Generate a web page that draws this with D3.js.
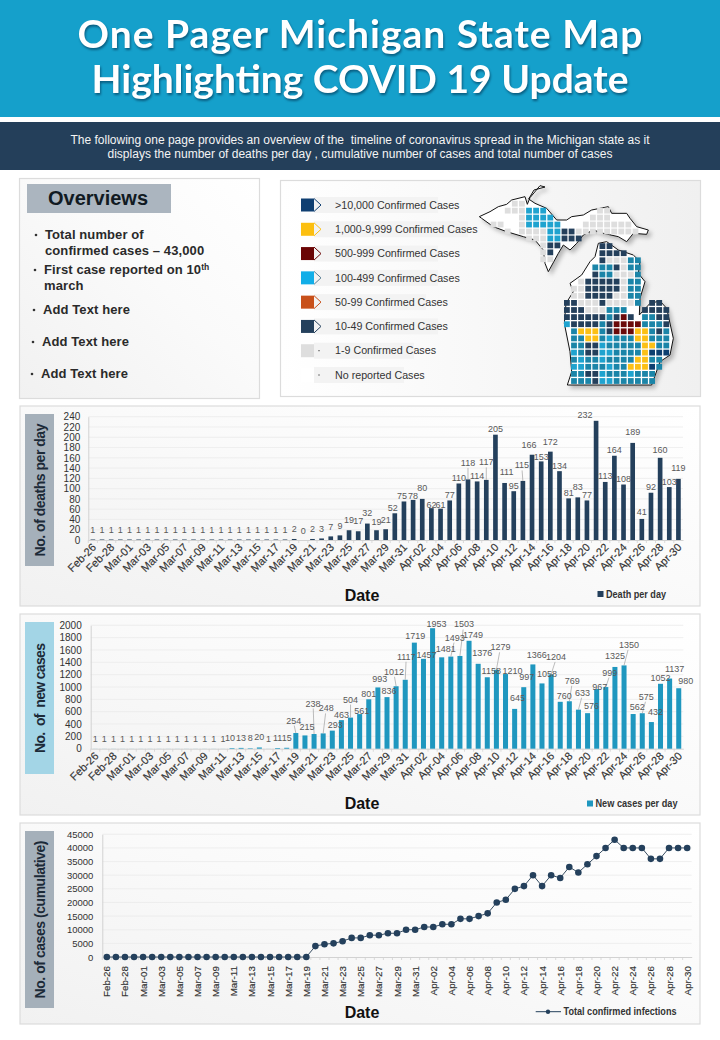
<!DOCTYPE html>
<html><head><meta charset="utf-8">
<script src="https://cdn.jsdelivr.net/npm/d3@7"></script>
<style>
html,body{margin:0;padding:0;background:#fff}
svg{display:block}
text{font-family:"Liberation Sans",Arial,sans-serif}
</style></head><body><svg id="c" width="720" height="1040"></svg>
<script>
const dates=["Feb-26","Feb-27","Feb-28","Feb-29","Mar-01","Mar-02","Mar-03","Mar-04","Mar-05","Mar-06","Mar-07","Mar-08","Mar-09","Mar-10","Mar-11","Mar-12","Mar-13","Mar-14","Mar-15","Mar-16","Mar-17","Mar-18","Mar-19","Mar-20","Mar-21","Mar-22","Mar-23","Mar-24","Mar-25","Mar-26","Mar-27","Mar-28","Mar-29","Mar-30","Mar-31","Apr-01","Apr-02","Apr-03","Apr-04","Apr-05","Apr-06","Apr-07","Apr-08","Apr-09","Apr-10","Apr-11","Apr-12","Apr-13","Apr-14","Apr-15","Apr-16","Apr-17","Apr-18","Apr-19","Apr-20","Apr-21","Apr-22","Apr-23","Apr-24","Apr-25","Apr-26","Apr-27","Apr-28","Apr-29","Apr-30"];
const deaths=[1,1,1,1,1,1,1,1,1,1,1,1,1,1,1,1,1,1,1,1,1,1,2,0,2,3,7,9,19,17,32,19,21,52,75,78,80,62,61,77,110,118,114,117,205,111,95,115,166,153,172,134,81,83,77,232,113,164,108,189,41,92,160,103,119];
const newCases=[1,1,1,1,1,1,1,1,1,1,1,1,1,1,1,10,13,8,20,1,11,15,254,215,238,248,293,463,504,561,801,993,836,1012,1117,1719,1457,1953,1481,1493,1503,1749,1376,1158,1279,1210,645,997,1366,1058,1204,760,769,633,576,967,999,1325,1350,562,575,432,1052,1137,980];
const cumulative=[0,0,0,0,0,0,0,0,0,0,0,0,0,0,0,0,0,0,0,0,0,0,0,4000,4700,5000,5800,7000,7000,8000,8000,8700,8700,10000,10000,11000,11000,12000,12000,14000,14000,15000,16000,20000,21000,25000,26000,30000,26000,30000,29000,33000,31000,34000,37000,40000,43000,40000,40000,40000,36000,36000,40000,40000,40000];
const deathTicks=[0,20,40,60,80,100,120,140,160,180,200,220,240];
const caseTicks=[0,200,400,600,800,1000,1200,1400,1600,1800,2000];
const cumTicks=[0,5000,10000,15000,20000,25000,30000,35000,40000,45000];
const legendLabels=[">10,000 Confirmed Cases","1,000-9,999 Confirmed Cases","500-999 Confirmed Cases","100-499 Confirmed Cases","50-99 Confirmed Cases","10-49 Confirmed Cases","1-9 Confirmed Cases","No reported Cases"];
const legendColors=["#0f3f72","#fcbf10","#6b0505","#12aee8","#c8501a","#24405c","#dedede","#ffffff"];

// Label nudges: date -> [dx, dy, leader]
const deathShift={"Mar-25":[0,-5],"Mar-26":[0,-5],"Mar-27":[0,-5],"Mar-28":[0,-3],"Mar-30":[-2,0],"Mar-31":[-2,0],"Apr-01":[0,2],"Apr-02":[0,-5],"Apr-03":[0,2],"Apr-04":[0,2],"Apr-07":[0,-11,1],"Apr-09":[0,-12,1],"Apr-11":[2,-5],"Apr-13":[-1,-10,1],"Apr-14":[-3,-4],"Apr-15":[0,1],"Apr-16":[0,-4.5],"Apr-19":[0,-5],"Apr-21":[-11,0],"Apr-25":[0,-5],"Apr-26":[0,-1],"Apr-28":[0,-2],"Apr-30":[0,-5]};
const caseShift={"Mar-12":[-2,-4.5],"Mar-19":[-2,-7,1],"Mar-20":[2,-2.5],"Mar-21":[-1,-25,1],"Mar-22":[3,-19.5,1],"Mar-23":[3,0],"Mar-25":[0,-12.5,1],"Mar-26":[2,2],"Mar-28":[2,-2.5],"Mar-29":[2,-1],"Mar-30":[-2,-9,1],"Mar-31":[1,-17.5,1],"Apr-01":[1,-1.5],"Apr-02":[3,2],"Apr-03":[4,1],"Apr-04":[4,-3],"Apr-05":[4,-13.5,1],"Apr-06":[4,-26,1],"Apr-07":[4,0],"Apr-08":[4,-5],"Apr-09":[4,-1],"Apr-10":[4,-17,1],"Apr-11":[7,2],"Apr-12":[3,-5],"Apr-13":[3,-5],"Apr-14":[4,-4],"Apr-15":[5,-4],"Apr-16":[5,-12,1],"Apr-17":[4,0],"Apr-18":[3,-15,1],"Apr-19":[4,-11.5,1],"Apr-20":[4,-2],"Apr-21":[3,3],"Apr-22":[4,-9,1],"Apr-23":[0,-5],"Apr-24":[5,-15,1],"Apr-25":[4,-2],"Apr-26":[4,-11,1],"Apr-27":[4,-5],"Apr-29":[5,-4.5],"Apr-30":[7,-2]};

// Map county grid: n navy, t teal, B bright blue, y gold, r dark red, d deep blue, g grey
const upperRows=[".....gg","....gggttt.......gg","......gtttt.....ggg","..gg..gttttt...ggggggg","....g.ggggttnnggggggggg",".......gggttnnn",".........gnn",".........gn",".........gg"];
const lowerRows=[".....nn",".....nnnn",".....ngggtt","....tttngtt","....nttgggt","..gnnnnngtt",".ggnnnnngtt",".ggnnnnggtt","nngggnggggt.nn","nnngggttt..nnnn","nnnnnntnrn.ttnn","Bnnnntnrrrrtttn",".tyyytnrrryytnt",".ttyytBtttyyttt",".ttnnBtttttyytt",".BtnnBBttttyddd",".tBttBttttyytt",".BBtttBttyyydt",".ttnnBtttBttt",".tttnBBtttttt"];
const upperOutline=[[28,125],[60,110],[85,95],[110,88],[125,75],[165,65],[172,88],[180,68],[210,32],[225,36],[192,45],[176,72],[195,85],[230,100],[260,135],[290,135],[305,125],[340,120],[365,105],[415,95],[425,115],[470,115],[480,130],[500,155],[535,165],[530,178],[490,175],[470,200],[445,185],[400,175],[370,165],[340,180],[320,205],[300,225],[280,210],[265,235],[235,290],[225,265],[220,225],[195,195],[160,185],[110,170],[70,155],[35,130]];
const lowerOutline=[[385,205],[410,200],[445,225],[490,240],[510,260],[505,295],[525,320],[510,370],[508,420],[540,385],[570,378],[590,400],[610,490],[600,540],[570,560],[545,630],[292,630],[305,590],[300,530],[283,445],[288,385],[310,350],[300,325],[335,300],[360,260],[375,245]];

const svg=d3.select("#c");
const defs=svg.append("defs");
const g1=defs.append("linearGradient").attr("id","pg").attr("x1",0).attr("y1",1).attr("x2",1).attr("y2",0);
g1.append("stop").attr("offset","0").attr("stop-color","#f1f1f1");
g1.append("stop").attr("offset",".55").attr("stop-color","#fafafa");
g1.append("stop").attr("offset","1").attr("stop-color","#ffffff");
const g2=defs.append("linearGradient").attr("id","mg").attr("x1",0).attr("y1",0).attr("x2",1).attr("y2",0);
g2.append("stop").attr("offset","0").attr("stop-color","#ffffff");
g2.append("stop").attr("offset","1").attr("stop-color","#f0f0f0");

// Header
svg.append("rect").attr("width",720).attr("height",117).attr("fill","#15a0cb");
svg.append("rect").attr("y",122).attr("width",720).attr("height",48).attr("fill","#243f5a");
[["One Pager Michigan State Map",48,565],["Highlighting COVID 19 Update",93,537]].forEach(d=>{
 svg.append("text").text(d[0]).attr("x",360).attr("y",d[1]).attr("text-anchor","middle")
  .attr("textLength",d[2]).style("font-family","Lato").style("font-weight",700).style("font-size","39px").attr("fill","#fff")
  .style("filter","drop-shadow(1px 2px 1px rgba(0,40,70,.55))");
});
[["The following one page provides an overview of the  timeline of coronavirus spread in the Michigan state as it",144,579],["displays the number of deaths per day , cumulative number of cases and total number of cases",158,505]].forEach(d=>{
 svg.append("text").text(d[0]).attr("x",360).attr("y",d[1]).attr("text-anchor","middle").attr("textLength",d[2]).attr("lengthAdjust","spacingAndGlyphs")
  .style("font-size","12px").attr("fill","#f4f4f4").attr("xml:space","preserve");
});

function panel(x,y,w,h,fill){
 svg.append("rect").attr("x",x).attr("y",y).attr("width",w).attr("height",h).attr("fill",fill||"url(#pg)").attr("stroke","#dcdcdc").attr("stroke-width",1.2);
}
// Overviews
panel(19.5,178.5,240,220);
svg.append("rect").attr("x",27).attr("y",184).attr("width",144).attr("height",29).attr("fill","#abb5bf");
svg.append("text").text("Overviews").attr("x",98).attr("y",204.5).attr("text-anchor","middle").style("font-size","20px").style("font-weight",700).attr("fill","#111a22");
const bullets=[[36,45,239,"Total number of"],[null,45,255,"confirmed cases – 43,000"],[35,44,274,"First case reported on 10"],[null,44,290,"march"],[34,43,314,"Add Text here"],[33,42,346,"Add Text here"],[32,41,378,"Add Text here"]];
bullets.forEach(b=>{
 if(b[0]!==null) svg.append("circle").attr("cx",b[0]).attr("cy",b[2]-4).attr("r",1.3).attr("fill","#333");
 const t=svg.append("text").attr("x",b[1]).attr("y",b[2]).style("font-size","13px").style("letter-spacing",".1px").style("font-weight",700).attr("fill","#2a2a2a").text(b[3]);
 if(b[3].endsWith("10")) t.append("tspan").text("th").attr("dy",-4).style("font-size","8.5px");
});

// Legend panel
panel(280.5,180.5,420,216,"url(#mg)");
const legY=d3.scalePoint().domain(legendLabels).range([205,375]);
const leg=svg.append("g").selectAll("g").data(legendLabels).join("g").attr("transform",d=>`translate(0,${legY(d)})`);
leg.append("rect").attr("x",314).attr("y",-8).attr("width",(d,i)=>[124,154,124,124,112,124,100,90][i]).attr("height",16).attr("fill","#f3f3f3");
leg.append("rect").attr("x",301).attr("y",-6.5).attr("width",13).attr("height",13).attr("fill",(d,i)=>legendColors[i]);
leg.append("path").attr("d",(d,i)=>i<6?"M314,-6.5L321,0L314,6.5":"M318,0h2").attr("fill","none").attr("stroke",(d,i)=>i<6?legendColors[i]==="#12aee8"?"#5a7f95":legendColors[i]:"#777").attr("stroke-width",1);
leg.append("text").text(d=>d).attr("x",335).attr("y",3.7).style("font-size","10.7px").attr("fill","#333");

// Map
const mapX=d3.scaleLinear().domain([0,690]).range([470,700]);
const mapY=d3.scaleLinear().domain([0,675]).range([175,400]);
const outline=d3.line().x(d=>mapX(d[0])).y(d=>mapY(d[1])).curve(d3.curveLinearClosed);
const mapG=svg.append("g");
[upperOutline,lowerOutline].forEach(o=>mapG.append("path").attr("d",outline(o)).attr("fill","#fff").attr("stroke","#111").attr("stroke-width",1).style("filter","drop-shadow(3px 3px 2px rgba(0,0,0,.25))"));
const cellColor={n:"#24405c",t:"#1b85a8",B:"#1fa3cf",y:"#fcc015",r:"#6b0a0a",d:"#0d3f70",g:"#dedede"};
const cells=(rows,x,y)=>rows.flatMap((s,r)=>s.split("").map((k,c)=>({k,c,r}))).filter(d=>d.k!==".").map(d=>({k:d.k,x:x(d.c),y:y(d.r)}));
const upX=d3.scaleLinear().domain([0,1]).range([479.3,486.4]), upY=d3.scaleLinear().domain([0,1]).range([203.7,210.65]);
const loX=d3.scaleLinear().domain([0,1]).range([566.9,574]), loY=d3.scaleLinear().domain([0,1]).range([246.1,253.2]);
const upCells=cells(upperRows,upX,upY).map(d=>d.k==="t"?{...d,k:"B"}:d);
mapG.selectAll(".u").data(upCells.concat(cells(lowerRows,loX,loY))).join("rect").attr("x",d=>d.x-2.9).attr("y",d=>d.y-2.9).attr("width",5.8).attr("height",5.8).attr("fill",d=>cellColor[d.k]);

// Charts
function chartFrame(o){
 panel(20,o.py,680,o.ph);
 svg.append("rect").attr("x",25).attr("y",o.by).attr("width",29).attr("height",o.bh).attr("fill",o.bc);
 svg.append("text").text(o.label).attr("transform",`translate(44.5,${o.by+o.bh/2}) rotate(-90)`).attr("text-anchor","middle").attr("textLength",o.lw).style("font-size","14px").style("font-weight",700).attr("fill","#1c2a38").attr("xml:space","preserve");
 const x=d3.scaleBand().domain(dates).range([o.l,o.r]).paddingInner(o.pad).paddingOuter(o.pad/2);
 const y=d3.scaleLinear().domain(o.dom).range([o.y0,o.y1]);
 const g=svg.append("g");
 g.selectAll(".grid").data(o.ticks.slice(1)).join("line").attr("x1",o.l).attr("x2",o.r).attr("y1",d=>y(d)).attr("y2",d=>y(d)).attr("stroke","#ebebeb").attr("stroke-width",.8);
 const ya=g.append("g").attr("transform",`translate(${o.l},0)`).call(d3.axisLeft(y).tickValues(o.ticks).tickSize(0).tickPadding(o.tp).tickFormat(d3.format("d")));
 ya.select(".domain").attr("stroke","#d2d2d2");
 ya.selectAll("text").style("font-size",o.fs).attr("fill","#333").style("font-family","'Liberation Sans'");
 const xa=g.append("g").attr("transform",`translate(0,${o.y0})`).call(d3.axisBottom(x).tickValues(dates.filter((d,i)=>i%2===0)).tickSize(0).tickFormat(d=>d));
 xa.select(".domain").attr("stroke","#d2d2d2");
 g.selectAll(".xt").data(dates).join("line").attr("x1",d=>x(d)-x.step()*o.pad/2).attr("x2",d=>x(d)-x.step()*o.pad/2).attr("y1",o.y0).attr("y2",o.y0+3).attr("stroke","#d2d2d2").attr("stroke-width",.8);
 xa.selectAll("text").style("font-size",o.rot===-90?"9.8px":"11px").attr("fill","#333").style("font-family","'Liberation Sans'").style("stroke","#333").style("stroke-width",".15px")
   .attr("text-anchor","end").attr("dy",0).attr("y",0)
   .attr("transform",o.rot===-90?"translate(3.5,9) rotate(-90)":"translate(4,8) rotate(-45)");
 svg.append("text").text("Date").attr("x",362).attr("y",o.dateY).attr("text-anchor","middle").style("font-size","16px").style("font-weight",700).attr("fill","#111");
 return {x,y,g};
}
function barChart(o,values,color,shift,lowLift){
 const {x,y,g}=chartFrame(o);
 const rows=dates.map((d,i)=>({d,v:values[i]}));
 g.selectAll(".bar").data(rows).join("rect").attr("x",r=>x(r.d)).attr("width",x.bandwidth()).attr("y",r=>y(r.v)).attr("height",r=>o.y0-y(r.v)).attr("fill",color);
 const sh=r=>shift[r.d]||[0,r.v<30?lowLift:0];
 g.selectAll(".lead").data(rows.filter(r=>sh(r)[2])).join("line")
  .attr("x1",r=>x(r.d)+x.bandwidth()/2).attr("x2",r=>x(r.d)+x.bandwidth()/2+sh(r)[0]*.8)
  .attr("y1",r=>y(r.v)).attr("y2",r=>y(r.v)-2.5+sh(r)[1]+2).attr("stroke","#a0a0a0").attr("stroke-width",.7);
 g.selectAll(".val").data(rows).join("text").text(r=>r.v)
  .attr("x",r=>x(r.d)+x.bandwidth()/2+sh(r)[0]).attr("y",r=>y(r.v)-2.5+sh(r)[1]).attr("text-anchor","middle")
  .style("font-size","9px").attr("fill","#595959");
 svg.append("rect").attr("x",o.lx).attr("y",o.ly-3).attr("width",6).attr("height",6).attr("fill",color);
 svg.append("text").text(o.legend).attr("x",o.lx+8.5).attr("y",o.ly+3.5).attr("textLength",o.lt).attr("lengthAdjust","spacingAndGlyphs").style("font-size","10px").style("font-weight",700).attr("fill","#333");
}
barChart({py:406,ph:200,by:414,bh:152,bc:"#a5b0ba",label:"No. of deaths per day",lw:133,l:88.3,r:683,pad:.49,dom:[0,240],y0:540,y1:416.7,ticks:deathTicks,tp:8,fs:"10px",dateY:601,lx:597.5,ly:594,legend:"Death per day",lt:60},deaths,"#24405c",deathShift,-4);
barChart({py:614,ph:201,by:622,bh:152,bc:"#a3d5e6",label:"No.  of  new cases",lw:110,l:90.7,r:683.3,pad:.45,dom:[0,2000],y0:748.7,y1:625.3,ticks:caseTicks,tp:9,fs:"10px",dateY:809,lx:587,ly:803.5,legend:"New cases per day",lt:82},newCases,"#1f97bf",caseShift,-4.5);

const o3={py:823,ph:201,by:831,bh:177,bc:"#a5b0ba",label:"No. of cases (cumulative)",lw:158,l:102.3,r:691.7,pad:.5,dom:[0,45000],y0:957,y1:834.3,ticks:cumTicks,tp:9,fs:"9.5px",dateY:1018,rot:-90};
const f3=chartFrame(o3);
const cx=d=>f3.x(d)+f3.x.bandwidth()/2;
const pts=dates.map((d,i)=>({d,v:cumulative[i]}));
f3.g.append("path").attr("d",d3.line().x(p=>cx(p.d)).y(p=>f3.y(p.v))(pts)).attr("fill","none").attr("stroke","#3a4f63").attr("stroke-width",1);
f3.g.selectAll(".pt").data(pts).join("circle").attr("cx",p=>cx(p.d)).attr("cy",p=>f3.y(p.v)).attr("r",3.3).attr("fill","#24405c");
svg.append("line").attr("x1",535.7).attr("x2",561).attr("y1",1011.7).attr("y2",1011.7).attr("stroke","#24405c").attr("stroke-width",1);
svg.append("circle").attr("cx",548).attr("cy",1011.7).attr("r",2.2).attr("fill","#24405c");
svg.append("text").text("Total confirmed infections").attr("x",563.5).attr("y",1015).attr("textLength",113).attr("lengthAdjust","spacingAndGlyphs").style("font-size","10px").style("font-weight",700).attr("fill","#333");
</script></body></html>
